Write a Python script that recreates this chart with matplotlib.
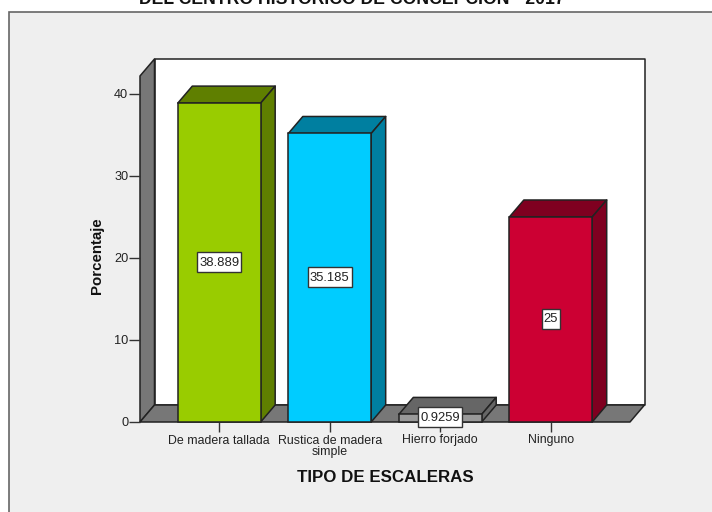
import matplotlib
matplotlib.use("Agg")
import matplotlib.pyplot as plt
from matplotlib.patches import Polygon, Rectangle
from matplotlib.path import Path

plt.rcParams['font.family'] = ['Liberation Sans', 'DejaVu Sans']

categorias = ["De madera tallada", "Rustica de madera\nsimple", "Hierro forjado", "Ninguno"]
porcentajes = [38.889, 35.185, 0.9259, 25]
etiquetas = ["38.889", "35.185", "0.9259", "25"]
y_ticks = [0, 10, 20, 30, 40]
colores_frente = ["#99CC00", "#00CCFF", "#999999", "#CC0033"]
colores_lado = ["#5F7F00", "#007FA0", "#666666", "#7F0020"]

W, H = 712, 512
LINEA = "#222222"
GRIS = "#777777"

fig = plt.figure(figsize=(W / 100, H / 100), dpi=100, facecolor="white")
# panel gris del fondo, se sale por la derecha y por abajo
fig.patches.append(Rectangle((9 / W, -0.02), 1, (H - 12) / H + 0.02, transform=fig.transFigure,
                             facecolor="#EFEFEF", edgecolor="#666666", linewidth=1.2, zorder=-5))

ax = fig.add_axes([140 / W, (H - 422) / H, 490 / W, 328 / H], facecolor="none")
ax.set_xlim(-0.717, 3.717)
ax.set_ylim(0, 40)

dx = 14.5 / 110.5
dy = 17 / 8.2
x0, x1 = -0.717, 3.717
techo = 42.2


def cara(puntos, color, z):
    ax.add_patch(Polygon(puntos, closed=True, facecolor=color, edgecolor=LINEA,
                         linewidth=1.1, clip_on=False, zorder=z, joinstyle="round"))


def caja(x, y, w, h, escala):
    # caja de la etiqueta: poco margen a los lados, mas arriba y abajo
    px, abajo, arriba = 2, 3, 5
    return Path([(x - px, y - abajo), (x + w + px, y - abajo), (x + w + px, y + h + arriba),
                 (x - px, y + h + arriba), (x - px, y - abajo)], closed=True)


# paredes y piso
cara([(x0 + dx, dy), (x1 + dx, dy), (x1 + dx, techo + dy), (x0 + dx, techo + dy)], "white", 1)
cara([(x0, 0), (x0 + dx, dy), (x0 + dx, techo + dy), (x0, techo)], GRIS, 1.1)
cara([(x0, 0), (x1, 0), (x1 + dx, dy), (x0 + dx, dy)], GRIS, 1.2)

ancho = 0.75
for i, v in enumerate(porcentajes):
    izq, der = i - ancho / 2, i + ancho / 2
    z = 2 + i * 0.1
    ax.bar(i, v, width=ancho, color=colores_frente[i], edgecolor=LINEA, linewidth=1.1,
           clip_on=False, zorder=z + 0.02)
    cara([(izq, v), (der, v), (der + dx, v + dy), (izq + dx, v + dy)], colores_lado[i], z)
    cara([(der, 0), (der + dx, dy), (der + dx, v + dy), (der, v)], colores_lado[i], z)
    ax.text(i, v / 2, etiquetas[i], ha="center", va="center", fontsize=9.4, color="#222222", zorder=5,
            bbox=dict(boxstyle=caja, facecolor="white", edgecolor="#333333", linewidth=1))

for lado in ax.spines.values():
    lado.set_visible(False)

ax.set_xticks(range(len(categorias)))
ax.set_xticklabels(categorias, fontsize=8.9, color="#222222", linespacing=0.95)
ax.set_yticks(y_ticks)
ax.tick_params(axis="x", length=7, width=1, color="#333333", pad=2)
ax.tick_params(axis="y", length=8, width=1, color="#333333", labelsize=9.2, labelcolor="#222222", pad=0.5)

fig.text(97 / W, 1 - 256 / H, "Porcentaje", rotation=90, ha="center", va="center",
         fontsize=10.8, fontweight="bold", color="#111111")
fig.text(385 / W, 1 - 478 / H, "TIPO DE ESCALERAS", ha="center", va="center",
         fontsize=12.2, fontweight="bold", color="#111111")
fig.text(352 / W, 1 + 1 / H, "DEL CENTRO HISTORICO DE CONCEPCION - 2017", ha="center", va="center",
         fontsize=12.7, fontweight="bold", color="#111111")

fig.savefig("out.png", dpi=100)
